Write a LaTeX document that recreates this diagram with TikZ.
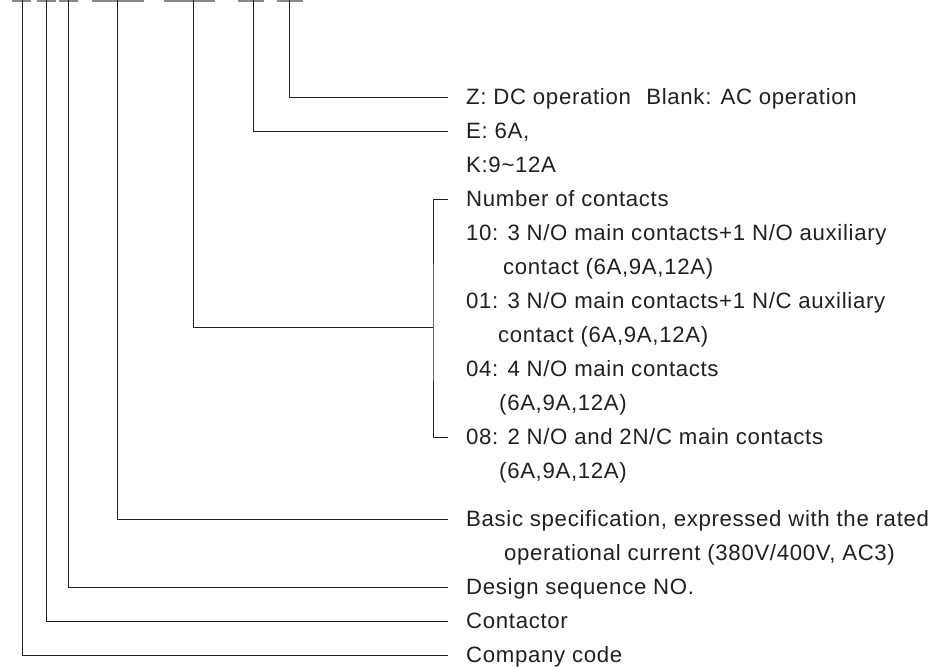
\documentclass[tikz,border=0pt]{standalone}
\usepackage{fontspec}
\setmainfont{Liberation Sans}[LetterSpace=3]
\definecolor{ink}{RGB}{35,31,32}
\definecolor{barc}{RGB}{140,135,136}
\begin{document}
\begin{tikzpicture}[x=1pt,y=-1pt,
    lbl/.style={anchor=base west,inner sep=0pt,text=ink,
      font=\fontsize{22.2}{34}\selectfont},
    lead/.style={draw=ink,line width=0.9pt},
    codebar/.style={draw=barc,line width=2pt}]
  \useasboundingbox (0,0) rectangle (941,667);
  % short marks under the (cut off) code letters
  \draw[codebar] (12,0.8) -- (31,0.8) (37,0.8) -- (56,0.8) (59,0.8) -- (78,0.8)
                 (92,0.8) -- (144,0.8) (164,0.8) -- (215,0.8)
                 (238,0.8) -- (264,0.8) (277,0.8) -- (303,0.8);
  \coordinate (cco) at (22,0);
  \coordinate (cct) at (46,0);
  \coordinate (cds) at (68,0);
  \coordinate (cbs) at (117,0);
  \coordinate (cnc) at (193,0);
  \coordinate (crt) at (253,0);
  \coordinate (cop) at (289,0);
  % line ends
  \coordinate (eop) at (448,97);
  \coordinate (ert) at (448,131);
  \coordinate (enct) at (448,199);
  \coordinate (encm) at (433,327);
  \coordinate (encb) at (448,437);
  \coordinate (ebs) at (448,519);
  \coordinate (eds) at (448,587);
  \coordinate (ect) at (448,621);
  \coordinate (eco) at (448,655);
  % texts
  \node[lbl] (top) at (466,104.5) {Z: DC operation\hspace{0.7em}Blank: AC operation};
  \node[lbl] (rt1) at (466,138.5) {E: 6A,};
  \node[lbl] (rt2) at (466,172.5) {K:9\textasciitilde 12A};
  \node[lbl] (nc0) at (466,206.5) {Number of contacts};
  \node[lbl] (nc1) at (466,240.5) {10: 3 N/O main contacts+1 N/O auxiliary};
  \node[lbl] (nc2) at (503,274.5) {contact (6A,9A,12A)};
  \node[lbl] (nc3) at (466,308.5) {01: 3 N/O main contacts+1 N/C auxiliary};
  \node[lbl] (nc4) at (498,342.5) {contact (6A,9A,12A)};
  \node[lbl] (nc5) at (466,376.5) {04: 4 N/O main contacts};
  \node[lbl] (nc6) at (499,410.5) {(6A,9A,12A)};
  \node[lbl] (nc7) at (466,444.5) {08: 2 N/O and 2N/C main contacts};
  \node[lbl] (nc8) at (499,478.5) {(6A,9A,12A)};
  \node[lbl] (bs1) at (466,526.5) {Basic specification, expressed with the rated};
  \node[lbl] (bs2) at (504,560.5) {operational current (380V/400V, AC3)};
  \node[lbl] (ds) at (466,594.5) {Design sequence NO.};
  \node[lbl] (ct) at (466,628.5) {Contactor};
  \node[lbl] (co) at (466,662.5) {Company code};
  % leader lines
  \draw[lead] (cop) |- (eop);
  \draw[lead] (crt) |- (ert);
  \draw[lead] (enct) -| (encm) |- (encb);
  \draw[lead] (cnc) |- (encm);
  \draw[lead] (cbs) |- (ebs);
  \draw[lead] (cds) |- (eds);
  \draw[lead] (cct) |- (ect);
  \draw[lead] (cco) |- (eco);
\end{tikzpicture}
\end{document}
